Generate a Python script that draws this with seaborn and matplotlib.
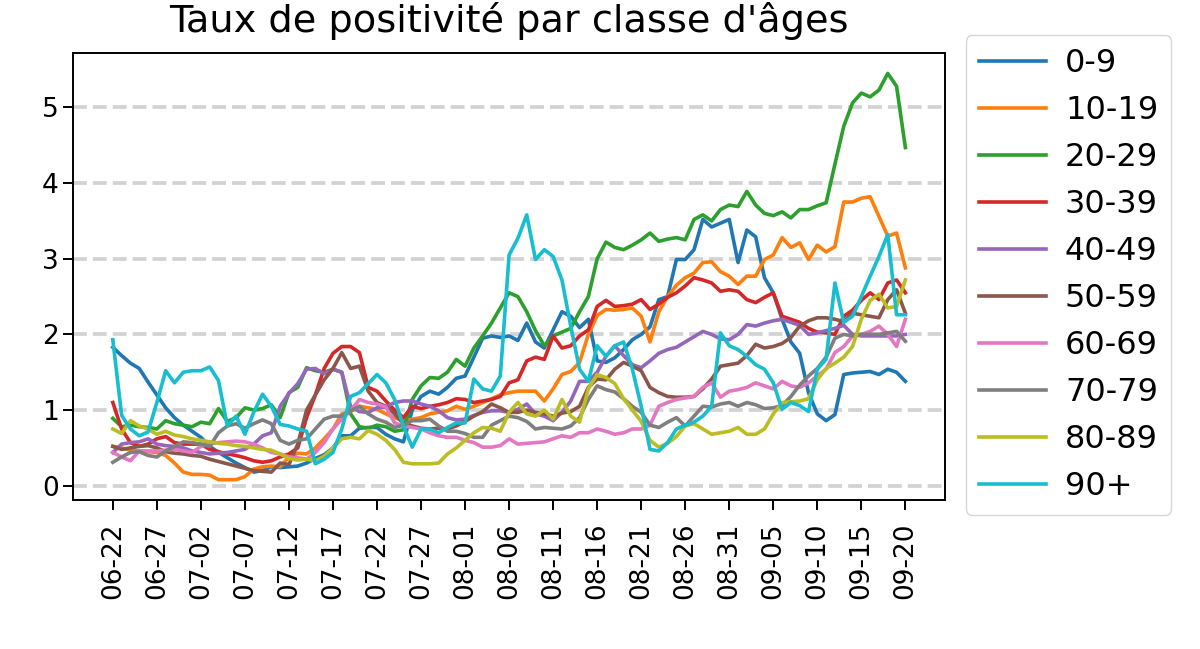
import matplotlib

matplotlib.use("Agg")
import matplotlib.pyplot as plt
import matplotlib.dates as mdates
import pandas as pd
import seaborn as sns

START_DATE = "2020-06-22"
N_DAYS = 91

AGE_GROUPS = ["0-9", "10-19", "20-29", "30-39", "40-49",
              "50-59", "60-69", "70-79", "80-89", "90+"]

# taux de positivité (%) par jour
rate_0_9 = [1.83, 1.72, 1.62, 1.55, 1.37, 1.2, 1.03, 0.9, 0.8, 0.72,
            0.64, 0.52, 0.44, 0.37, 0.3, 0.24, 0.18, 0.2, 0.25, 0.24,
            0.25, 0.26, 0.3, 0.36, 0.41, 0.5, 0.66, 0.66, 0.76, 0.77,
            0.77, 0.68, 0.62, 0.58, 1.0, 1.18, 1.25, 1.21, 1.3, 1.42,
            1.45, 1.7, 1.95, 1.98, 1.96, 1.98, 1.92, 2.15, 1.9, 1.82,
            2.06, 2.3, 2.24, 2.09, 2.2, 1.65, 1.63, 1.69, 1.8, 1.93,
            2.0, 2.1, 2.46, 2.5, 2.99, 2.99, 3.12, 3.52, 3.42, 3.47,
            3.52, 2.95, 3.38, 3.29, 2.75, 2.55, 2.2, 1.9, 1.75, 1.23,
            0.95, 0.86, 0.94, 1.47, 1.49, 1.5, 1.51, 1.47, 1.54, 1.5,
            1.38]
rate_10_19 = [0.52, 0.5, 0.47, 0.46, 0.45, 0.44, 0.4, 0.3, 0.18, 0.15,
              0.15, 0.14, 0.08, 0.08, 0.08, 0.12, 0.22, 0.25, 0.26, 0.25,
              0.38, 0.43, 0.42, 0.5, 0.62, 0.75, 0.95, 0.98, 1.05, 1.03,
              1.01, 0.95, 0.9, 0.86, 0.88, 0.9, 0.95, 0.97, 0.99, 1.05,
              1.01, 1.05, 1.1, 1.15, 1.2, 1.23, 1.25, 1.25, 1.25, 1.12,
              1.28, 1.47, 1.51, 1.63, 2.0, 2.25, 2.33, 2.32, 2.33, 2.35,
              2.24, 1.9, 2.3, 2.5, 2.65, 2.75, 2.81, 2.95, 2.96, 2.83,
              2.77, 2.66, 2.77, 2.77, 2.99, 3.05, 3.28, 3.15, 3.21, 2.99,
              3.18, 3.09, 3.16, 3.75, 3.75, 3.8, 3.82, 3.56, 3.3, 3.34,
              2.88]
rate_20_29 = [0.89, 0.78, 0.8, 0.78, 0.77, 0.75, 0.86, 0.82, 0.8, 0.78,
              0.84, 0.82, 1.02, 0.85, 0.9, 1.03, 1.0, 1.02, 1.07, 0.9,
              1.23, 1.3, 1.56, 1.52, 1.5, 1.54, 1.5, 0.95, 0.78, 0.76,
              0.8, 0.78, 0.72, 0.74, 1.14, 1.32, 1.43, 1.42, 1.5, 1.67,
              1.58, 1.82, 1.98, 2.15, 2.35, 2.55, 2.5, 2.3, 2.05, 1.85,
              1.98, 2.03, 2.08, 2.3, 2.5, 3.0, 3.22, 3.15, 3.12, 3.18,
              3.25, 3.34, 3.23, 3.26, 3.28, 3.25, 3.52, 3.58, 3.5, 3.65,
              3.71, 3.69, 3.89, 3.71, 3.6, 3.57, 3.62, 3.54, 3.65, 3.65,
              3.7, 3.74, 4.25, 4.75, 5.06, 5.19, 5.14, 5.23, 5.45, 5.28,
              4.47]
rate_30_39 = [1.1, 0.75, 0.57, 0.52, 0.55, 0.62, 0.65, 0.57, 0.55, 0.55,
              0.55, 0.48, 0.45, 0.42, 0.4, 0.37, 0.33, 0.31, 0.33, 0.38,
              0.42, 0.5, 0.9, 1.2, 1.55, 1.75, 1.84, 1.84, 1.76, 1.3,
              1.25, 1.12, 1.0, 0.9, 1.05, 1.02, 1.05, 1.07, 1.1, 1.15,
              1.14, 1.1, 1.12, 1.14, 1.18, 1.36, 1.4, 1.65, 1.7, 1.67,
              1.98, 1.82, 1.85, 1.98, 2.06, 2.37, 2.45, 2.37, 2.38, 2.4,
              2.46, 2.33, 2.4, 2.49, 2.55, 2.64, 2.75, 2.72, 2.68, 2.57,
              2.59, 2.57, 2.46, 2.42, 2.49, 2.55, 2.24, 2.2, 2.16, 2.08,
              2.03, 2.02, 2.0, 2.24, 2.32, 2.45, 2.55, 2.46, 2.68, 2.72,
              2.55]
rate_40_49 = [0.44, 0.55, 0.57, 0.58, 0.62, 0.55, 0.53, 0.52, 0.5, 0.46,
              0.44, 0.42, 0.43, 0.44, 0.46, 0.48, 0.55, 0.66, 0.7, 1.05,
              1.22, 1.35, 1.54, 1.55, 1.48, 1.54, 1.5, 1.05, 0.98, 0.97,
              1.03, 1.04, 1.1, 1.12, 1.12, 1.08, 1.05, 0.99, 0.9, 0.87,
              0.88, 0.93, 0.97, 0.99, 0.99, 0.97, 1.01, 1.08, 0.95, 0.92,
              0.86, 0.97, 1.12, 1.38, 1.38, 1.5, 1.71, 1.85, 1.72, 1.6,
              1.56, 1.65, 1.75, 1.8, 1.83, 1.9, 1.97, 2.04, 2.0, 1.94,
              1.93, 2.0, 2.13, 2.11, 2.15, 2.18, 2.2, 2.16, 2.12, 2.0,
              2.02, 2.05, 2.08, 2.12, 2.0, 1.98, 1.98, 1.98, 1.98, 1.98,
              2.0]
rate_50_59 = [0.52, 0.48, 0.5, 0.52, 0.53, 0.5, 0.45, 0.43, 0.42, 0.4,
              0.39, 0.35, 0.32, 0.29, 0.26, 0.23, 0.2, 0.19, 0.18, 0.3,
              0.28, 0.55, 1.0, 1.2, 1.4, 1.55, 1.76, 1.55, 1.58, 1.25,
              1.1, 1.05, 0.95, 0.82, 0.79, 0.76, 0.75, 0.76, 0.75, 0.79,
              0.85, 0.92, 0.98, 1.08, 1.03, 0.97, 0.97, 1.0, 0.97, 0.95,
              0.92, 0.96, 0.98, 1.05, 1.3, 1.41, 1.4, 1.54, 1.63, 1.58,
              1.52, 1.3, 1.23, 1.18, 1.17, 1.17, 1.18, 1.28, 1.41, 1.58,
              1.6, 1.62, 1.72, 1.87, 1.82, 1.84, 1.88, 1.96, 2.11, 2.18,
              2.22, 2.22, 2.2, 2.17, 2.28, 2.26, 2.24, 2.22, 2.46, 2.59,
              2.28]
rate_60_69 = [0.44, 0.38, 0.33, 0.46, 0.46, 0.46, 0.47, 0.48, 0.46, 0.44,
              0.52, 0.55, 0.57, 0.58, 0.59, 0.58, 0.55, 0.5, 0.44, 0.42,
              0.38, 0.37, 0.35, 0.44, 0.57, 0.75, 0.88, 0.99, 1.14, 1.1,
              1.08, 1.04, 0.83, 0.79, 0.77, 0.75, 0.7, 0.66, 0.64, 0.64,
              0.6, 0.57, 0.51, 0.51, 0.53, 0.62, 0.55, 0.56, 0.57, 0.58,
              0.62, 0.66, 0.64, 0.7, 0.7, 0.75, 0.72, 0.68, 0.7, 0.75,
              0.75, 0.8, 1.05, 1.1, 1.14, 1.16, 1.18, 1.3, 1.36, 1.17,
              1.25, 1.27, 1.3, 1.36, 1.32, 1.28, 1.38, 1.32, 1.3, 1.36,
              1.45, 1.54, 1.76, 1.84, 1.98, 2.0, 2.04, 2.11, 2.0, 1.84,
              2.2]
rate_70_79 = [0.31, 0.38, 0.44, 0.45, 0.4, 0.38, 0.46, 0.52, 0.58, 0.57,
              0.55, 0.52, 0.7, 0.79, 0.82, 0.76, 0.82, 0.87, 0.82, 0.6,
              0.55, 0.6, 0.62, 0.75, 0.88, 0.92, 0.92, 0.99, 1.05, 0.95,
              0.88, 0.84, 0.77, 0.8, 0.86, 0.86, 0.88, 0.79, 0.72, 0.72,
              0.69, 0.64, 0.64, 0.8, 0.86, 0.92, 0.9, 0.85, 0.75, 0.77,
              0.76, 0.75, 0.79, 0.9, 1.14, 1.32, 1.27, 1.24, 1.15, 1.05,
              0.97, 0.8, 0.77, 0.84, 0.9, 0.79, 0.92, 1.05, 1.04, 1.08,
              1.1, 1.05, 1.1, 1.07, 1.02, 1.03, 1.06, 1.18, 1.33, 1.45,
              1.55, 1.7, 1.95, 2.0, 1.98, 2.0, 2.0, 2.0, 2.02, 2.04,
              1.91]
rate_80_89 = [0.75, 0.69, 0.86, 0.79, 0.75, 0.68, 0.72, 0.67, 0.65, 0.62,
              0.6, 0.58, 0.56, 0.55, 0.53, 0.52, 0.5, 0.48, 0.47, 0.42,
              0.36, 0.34, 0.35, 0.33, 0.39, 0.5, 0.62, 0.64, 0.62, 0.73,
              0.68, 0.6, 0.48, 0.31, 0.29, 0.29, 0.29, 0.3, 0.42, 0.5,
              0.6, 0.7, 0.77, 0.76, 0.72, 0.97, 1.1, 0.95, 0.92, 1.0,
              0.88, 1.14, 0.92, 0.84, 1.28, 1.47, 1.43, 1.35, 1.15, 1.0,
              0.85, 0.6, 0.51, 0.56, 0.65, 0.79, 0.82, 0.75, 0.68, 0.7,
              0.72, 0.77, 0.68, 0.68, 0.75, 0.95, 1.1, 1.11, 1.12, 1.15,
              1.4, 1.55, 1.62, 1.7, 1.84, 2.2, 2.45, 2.53, 2.35, 2.37,
              2.72]
rate_90_plus = [1.93, 0.93, 0.75, 0.66, 0.71, 1.1, 1.52, 1.36, 1.5, 1.52,
                1.52, 1.57, 1.39, 0.79, 0.92, 0.68, 0.97, 1.21, 1.05, 0.81,
                0.79, 0.75, 0.72, 0.29, 0.35, 0.44, 0.75, 1.18, 1.23, 1.35,
                1.47, 1.36, 1.14, 0.79, 0.51, 0.75, 0.75, 0.7, 0.77, 0.83,
                0.83, 1.41, 1.28, 1.25, 1.45, 3.05, 3.27, 3.58, 2.99, 3.12,
                3.03, 2.72, 2.11, 1.54, 1.38, 1.85, 1.71, 1.85, 1.9, 1.54,
                1.05, 0.48, 0.46, 0.57, 0.75, 0.8, 0.84, 0.92, 1.05, 2.02,
                1.85, 1.8, 1.71, 1.6, 1.54, 1.36, 1.01, 1.1, 1.06, 0.98,
                1.54, 1.67, 2.68, 2.16, 2.24, 2.5, 2.77, 3.03, 3.32, 2.26,
                2.26]

SERIES = [rate_0_9, rate_10_19, rate_20_29, rate_30_39, rate_40_49,
          rate_50_59, rate_60_69, rate_70_79, rate_80_89, rate_90_plus]


def build_frame() -> pd.DataFrame:
    dates = pd.date_range(START_DATE, periods=N_DAYS, freq="D")
    frames = []
    for group, values in zip(AGE_GROUPS, SERIES):
        frames.append(pd.DataFrame({"date": dates, "age": group, "taux": values}))
    return pd.concat(frames, ignore_index=True)


def main() -> None:
    df = build_frame()
    dates = pd.date_range(START_DATE, periods=N_DAYS, freq="D")

    fig = plt.figure(figsize=(12, 6.49), dpi=100)
    ax = fig.add_axes([0.061, 0.2296, 0.7265, 0.6886])

    sns.lineplot(
        data=df,
        x="date",
        y="taux",
        hue="age",
        hue_order=AGE_GROUPS,
        palette=sns.color_palette("tab10", n_colors=len(AGE_GROUPS)),
        linewidth=2.6,
        ax=ax,
    )

    ax.yaxis.grid(True, linestyle="--", color="#d3d3d3", linewidth=2.7)
    ax.set_axisbelow(True)
    ax.set_xticks(dates[::5])
    ax.xaxis.set_major_formatter(mdates.DateFormatter("%m-%d"))
    ax.tick_params(axis="x", labelrotation=90, labelsize=19, length=7, width=1.4, pad=9)
    ax.tick_params(axis="y", labelsize=19, length=7, width=1.4)
    ax.set_yticks([0, 1, 2, 3, 4, 5])
    ax.set_xlabel("")
    ax.set_ylabel("")
    for spine in ax.spines.values():
        spine.set_linewidth(1.4)

    ax.set_title("Taux de positivité par classe d'âges", fontsize=27.5, pad=15)

    handles, labels = ax.get_legend_handles_labels()
    ax.legend(
        handles,
        labels,
        loc="upper left",
        bbox_to_anchor=(1.024, 1.04),
        borderaxespad=0,
        fontsize=23,
        handlelength=2.1,
        handletextpad=0.6,
    )

    fig.savefig("out.png", dpi=100)
    plt.close(fig)


if __name__ == "__main__":
    main()
